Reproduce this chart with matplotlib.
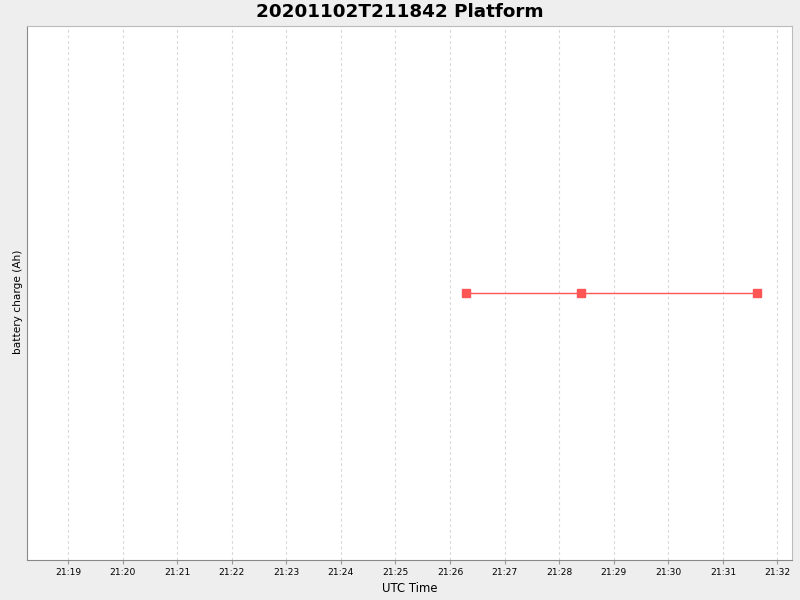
import datetime as dt
import matplotlib
matplotlib.use("Agg")
import matplotlib.pyplot as plt
import matplotlib.dates as mdates

# battery charge samples (UTC)
times = ["2020-11-02 21:26:18", "2020-11-02 21:28:24", "2020-11-02 21:31:37"]
charge = [10.0, 10.0, 10.0]
x_start = "2020-11-02 21:18:15"
x_end = "2020-11-02 21:32:16"

fmt = "%Y-%m-%d %H:%M:%S"
t = [dt.datetime.strptime(s, fmt) for s in times]

fig = plt.figure(figsize=(8, 6), dpi=100, facecolor="#eeeeee")
ax = fig.add_axes([27/800, 40/600, 765/800, 534/600])
ax.set_facecolor("white")

ax.plot(t, charge, color="#ff5555", lw=1, marker="s", ms=6, mec="#ff5555", mfc="#ff5555", zorder=3)

ax.set_xlim(dt.datetime.strptime(x_start, fmt), dt.datetime.strptime(x_end, fmt))
ax.set_ylim(9.5, 10.5)
ax.xaxis.set_major_locator(mdates.MinuteLocator())
ax.xaxis.set_major_formatter(mdates.DateFormatter("%H:%M"))
ax.set_yticks([])
ax.tick_params(axis="x", labelsize=6.6, length=3, color="#999999", pad=2.5)
ax.grid(axis="x", color="#d8d8d8", ls=(0, (2.5, 2.5)), lw=0.8)

for side in ["left", "bottom"]:
    ax.spines[side].set_color("#888888")
for side in ["top", "right"]:
    ax.spines[side].set_color("#bbbbbb")

ax.set_xlabel("UTC Time", fontsize=8.4, labelpad=4)
ax.set_ylabel("battery charge (Ah)", fontsize=7.6, va="center")
ax.yaxis.set_label_coords(-0.0124, 0.483)
# title is centred on the whole image, not the plot area
fig.suptitle("20201102T211842 Platform", x=0.5, y=1 - 12/600, va="center",
             fontsize=13.2, fontweight="bold")

fig.savefig("out.png", dpi=100, facecolor=fig.get_facecolor())
